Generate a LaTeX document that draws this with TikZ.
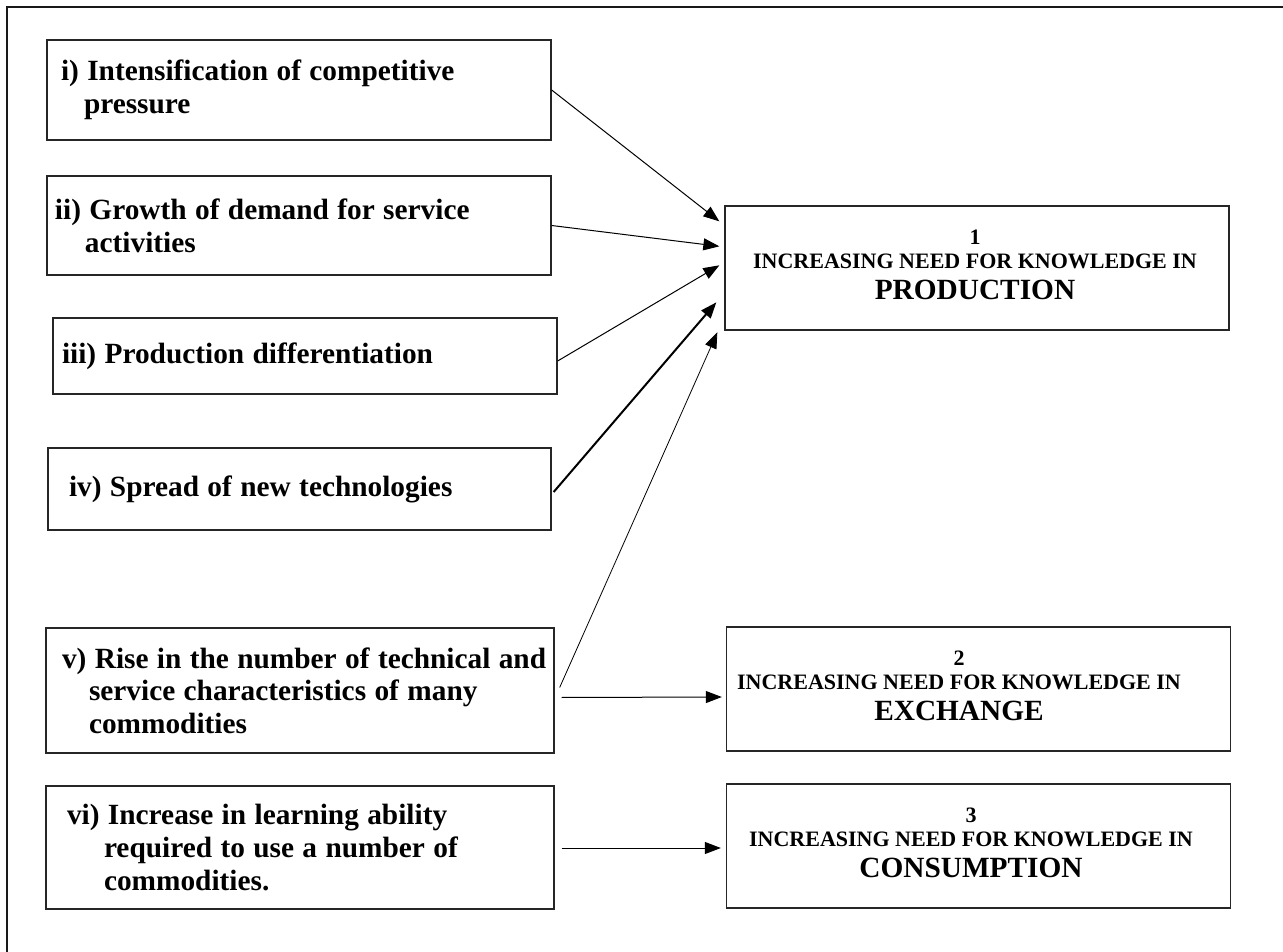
\documentclass[tikz,border=0pt]{standalone}
\usepackage{fontspec}
\setmainfont{Liberation Serif}
\usetikzlibrary{arrows.meta,calc}

% bold serif for the cause boxes, with slightly tighter word spacing
\newcommand\causefont{\fontsize{22pt}{24.5pt}\selectfont\bfseries}
\newcommand\tightwords{\setlength{\spaceskip}{6.3pt plus 1.1pt}}

\tikzset{
  cause/.style={draw=black!85, line width=1pt, rectangle, inner ysep=0pt,
    align=left, font=\causefont},
  effect/.style={draw=black!85, line width=1pt, rectangle,
    minimum width=378pt, minimum height=93pt},
  headtxt/.style={align=center, inner sep=0pt,
    font=\fontsize{16.5pt}{18pt}\selectfont\bfseries},
  link/.style={line width=0.75pt, -{Triangle[length=12pt,width=9pt]}},
  framestyle/.style={line width=1.5pt, draw=black!90},
}

\begin{document}
\begin{tikzpicture}[x=0.75pt,y=-0.75pt]
  \useasboundingbox (0,0) rectangle (1283,952);

  % outer frame (top and left edges)
  \coordinate (frameTR) at (1290,7);
  \coordinate (frameTL) at (7,7);
  \coordinate (frameBL) at (7,960);
  \draw[framestyle] (frameTR) -- (frameTL) -- (frameBL);

  % causes
  \node[cause, text width=357pt, inner xsep=10.5pt, minimum height=75pt] (ci) at (299,90)
    {\tightwords i) Intensification of competitive\\\hspace*{17.25pt}pressure};
  \node[cause, text width=366pt, inner xsep=6pt, minimum height=74.25pt] (cii) at (299,225.5)
    {\tightwords ii) Growth of demand for service\\\hspace*{22.5pt}activities};
  \node[cause, text width=364.5pt, inner xsep=6.75pt, minimum height=57pt] (ciii) at (305,356)
    {\tightwords iii) Production differentiation};
  \node[cause, text width=345.75pt, inner xsep=15.75pt, minimum height=61.5pt] (civ) at (299.5,489)
    {\tightwords iv) Spread of new technologies};
  \node[cause, text width=357pt, inner xsep=12pt, minimum height=93.75pt] (cv) at (300,690.5)
    {\tightwords \mbox{v) Rise in the number of technical and}\\\hspace*{20.25pt}service characteristics of many\\\hspace*{20.25pt}commodities};
  \node[cause, text width=349.5pt, inner xsep=15.75pt, minimum height=92.25pt] (cvi) at (300,847.5)
    {\tightwords vi) Increase in learning ability\\\hspace*{27.75pt}required to use a number of\\\hspace*{27.75pt}commodities.};

  % effects
  \node[effect] (e1) at (977,268) {};
  \node[effect] (e2) at (978.5,689) {};
  \node[effect] (e3) at (978.5,846) {};

  \node[headtxt] (t1) at ($(e1.center)+(-2,-3.5)$)
    {1\\INCREASING NEED FOR KNOWLEDGE IN\\[5.25pt]{\fontsize{22pt}{24pt}\selectfont PRODUCTION}};
  \node[headtxt] (t2) at ($(e2.center)+(-19.5,-3)$)
    {2\\INCREASING NEED FOR KNOWLEDGE IN\\[5.25pt]{\fontsize{22pt}{24pt}\selectfont EXCHANGE}};
  \node[headtxt] (t3) at ($(e3.center)+(-7.5,-3)$)
    {3\\INCREASING NEED FOR KNOWLEDGE IN\\[5.25pt]{\fontsize{22pt}{24pt}\selectfont CONSUMPTION}};

  % connectors
  \draw[link] (ci.east) -- ($(e1.north west)+(-5,16)$);
  \draw[link] (cii.east) -- ($(e1.north west)+(-5,41)$);
  \draw[link] ($(ciii.east)+(0,5)$) -- ($(e1.north west)+(-5,60)$);
  \draw[link, line width=1.5pt] ($(civ.east)+(2,3)$) -- ($(e1.north west)+(-8,97)$);
  \draw[link, line width=0.6pt] ($(cv.east)+(5,-3)$) -- ($(e1.north west)+(-7,127)$);
  \draw[link] ($(cv.east)+(7,7)$) -- ($(e2.west)+(-4,8)$);
  \draw[link] ($(cvi.east)+(7,0.5)$) -- ($(e3.west)+(-5,2)$);
\end{tikzpicture}
\end{document}
